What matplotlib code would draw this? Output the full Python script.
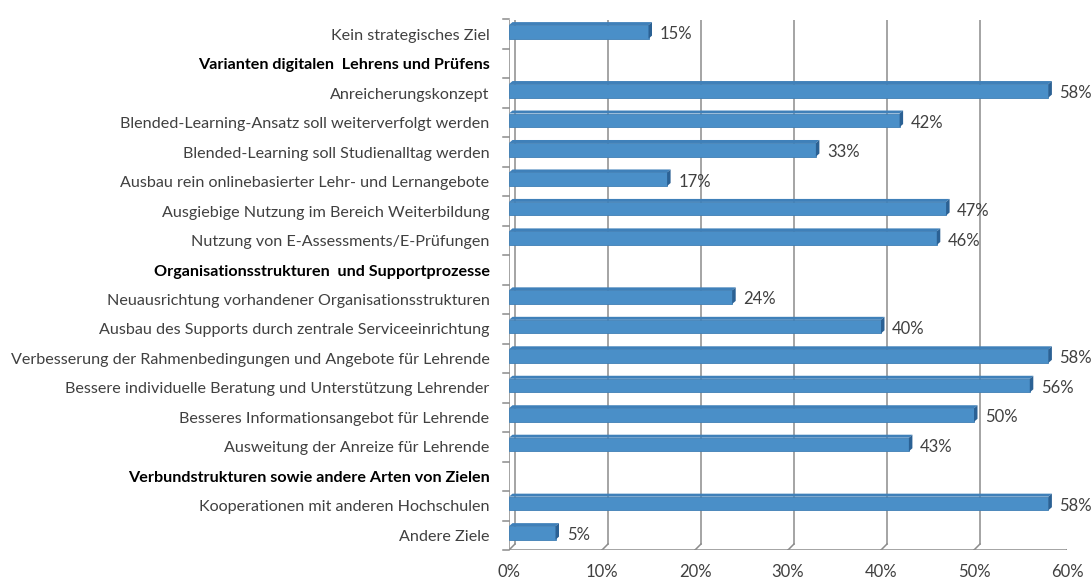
import matplotlib.pyplot as plt
from matplotlib.patches import Polygon

categories = [
    "Kein strategisches Ziel",
    "Varianten digitalen  Lehrens und Prüfens",
    "Anreicherungskonzept",
    "Blended-Learning-Ansatz soll weiterverfolgt werden",
    "Blended-Learning soll Studienalltag werden",
    "Ausbau rein onlinebasierter Lehr- und Lernangebote",
    "Ausgiebige Nutzung im Bereich Weiterbildung",
    "Nutzung von E-Assessments/E-Prüfungen",
    "Organisationsstrukturen  und Supportprozesse",
    "Neuausrichtung vorhandener Organisationsstrukturen",
    "Ausbau des Supports durch zentrale Serviceeinrichtung",
    "Verbesserung der Rahmenbedingungen und Angebote für Lehrende",
    "Bessere individuelle Beratung und Unterstützung Lehrender",
    "Besseres Informationsangebot für Lehrende",
    "Ausweitung der Anreize für Lehrende",
    "Verbundstrukturen sowie andere Arten von Zielen",
    "Kooperationen mit anderen Hochschulen",
    "Andere Ziele",
]
values = [15, None, 58, 42, 33, 17, 47, 46, None, 24, 40, 58, 56, 50, 43, None, 58, 5]
headers = [1, 8, 15]
x_ticks = [0, 10, 20, 30, 40, 50, 60]

plt.rcParams['font.family'] = ['Lato', 'DejaVu Sans']

W, H = 1091, 583
fig = plt.figure(figsize=(W / 100, H / 100), dpi=100)
# front plane of the 3D box in pixels
left, right, top, bottom = 509, 1067, 19.5, 550
ax = fig.add_axes([left / W, 1 - bottom / H, (right - left) / W, (bottom - top) / H])
n = len(categories)
ax.set_xlim(0, 60)
ax.set_ylim(n - 0.5, -0.5)

px_x = (right - left) / 60.0
px_y = (bottom - top) / n
DX, DY = 6 / px_x, 6 / px_y        # wall depth
BDX, BDY = 3.5 / px_x, 3 / px_y    # bar depth

grid_c = "#8c8c8c"
lw = 1.1
ylo, yhi = n - 0.5, -0.5

# back wall gridlines + floor slants + ticks
for t in x_ticks:
    ax.plot([t + DX, t + DX], [yhi - DY, ylo - DY], color=grid_c, lw=lw, zorder=1)
    ax.plot([t + DX, t], [ylo - DY, ylo], color=grid_c, lw=lw, zorder=1)
    ax.plot([t, t], [ylo, ylo + 4 / px_y], color=grid_c, lw=lw, zorder=1)
# floor front edge
ax.plot([0, 60], [ylo, ylo], color=grid_c, lw=lw, zorder=1)
# left wall front edge, top slant, ticks
ax.plot([0, 0], [yhi, ylo], color=grid_c, lw=lw, zorder=1)
ax.plot([0, DX], [yhi, yhi - DY], color=grid_c, lw=lw, zorder=1)
for b in range(n + 1):
    ax.plot([0, -6 / px_x], [b - 0.5, b - 0.5], color=grid_c, lw=lw, zorder=1, clip_on=False)

face = "#4a8fc8"
topc = "#3f80b9"
side = "#2b6194"
h = 0.46
for i, v in enumerate(values):
    if v is None:
        continue
    yc = i - 0.08
    ax.barh(yc, v, height=h, color=face, edgecolor="#3f7fb5", linewidth=0.6, zorder=3)
    y0 = yc - h / 2
    y1 = yc + h / 2
    ax.add_patch(Polygon([(0, y0), (v, y0), (v + BDX, y0 - BDY), (BDX, y0 - BDY)],
                         closed=True, facecolor=topc, edgecolor="none", zorder=3))
    ax.add_patch(Polygon([(v, y0), (v, y1), (v + BDX, y1 - BDY), (v + BDX, y0 - BDY)],
                         closed=True, facecolor=side, edgecolor="none", zorder=3))
    ax.annotate(f"{v}%", (v, i), xytext=(8, 0), textcoords="offset points",
                ha="left", va="center", fontsize=12, color="#404040", zorder=4)

ax.set_yticks(range(n))
ax.set_yticklabels(categories)
for i, lab in enumerate(ax.get_yticklabels()):
    if i in headers:
        lab.set_fontweight("bold")
        lab.set_color("black")
    else:
        lab.set_color("#404040")
    lab.set_fontsize(11.6)
ax.tick_params(axis="y", length=0, pad=14)

ax.set_xticks(x_ticks)
ax.set_xticklabels([f"{t}%" for t in x_ticks])
ax.tick_params(axis="x", length=0, pad=10, labelsize=12, labelcolor="#404040")

for s in ax.spines.values():
    s.set_visible(False)
ax.patch.set_alpha(0)

fig.savefig("out.png", dpi=100)
